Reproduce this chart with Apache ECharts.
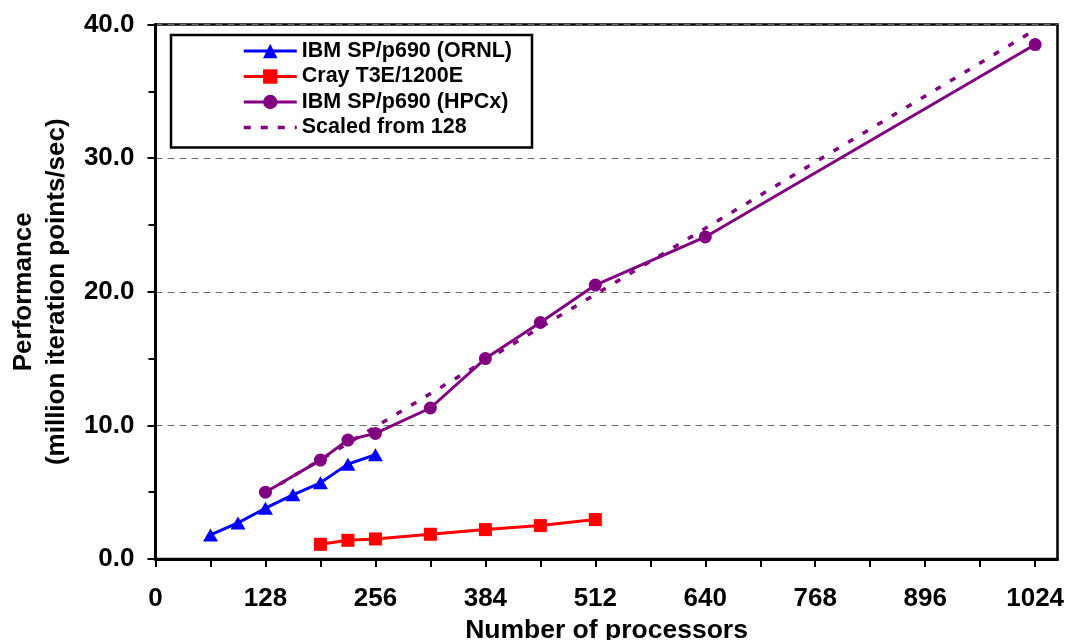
<!DOCTYPE html>
<html>
<head>
<meta charset="utf-8">
<script src="https://cdn.jsdelivr.net/npm/echarts@6/dist/echarts.min.js"></script>
<style>
  html, body { margin: 0; padding: 0; background: #fff; }
  #chart { width: 1067px; height: 640px; }
</style>
</head>
<body>
<div id="chart"></div>
<script>
// Processor counts and measured performance (million iteration points/sec)
const ornlProcs = [64, 96, 128, 160, 192, 224, 256];
const ornlPerf  = [1.8, 2.7, 3.8, 4.8, 5.7, 7.1, 7.8];

const crayProcs = [192, 224, 256, 320, 384, 448, 512];
const crayPerf  = [1.1, 1.4, 1.5, 1.85, 2.2, 2.5, 2.95];

const hpcxProcs = [128, 192, 224, 256, 320, 384, 448, 512, 640, 1024];
const hpcxPerf  = [5.0, 7.4, 8.9, 9.4, 11.3, 15.0, 17.7, 20.5, 24.1, 38.5];

// Ideal scaling line taken from the 128-processor run
const scaledProcs = [128, 1024];
const scaledPerf  = [4.95, 39.6];

// Axis tick positions and labels
const xTickValues  = [0, 64, 128, 192, 256, 320, 384, 448, 512, 576, 640, 704, 768, 832, 896, 960, 1024];
const xLabelValues = [0, 128, 256, 384, 512, 640, 768, 896, 1024];

const seriesNames = ['IBM SP/p690 (ORNL)', 'Cray T3E/1200E', 'IBM SP/p690 (HPCx)', 'Scaled from 128'];

const pairs = (xs, ys) => xs.map((x, i) => [x, ys[i]]);
const FONT = '"Liberation Sans", Arial, sans-serif';

const chart = echarts.init(document.getElementById('chart'), null, { renderer: 'canvas' });

chart.setOption({
  animation: false,
  backgroundColor: '#ffffff',
  grid: {
    left: 155.5, right: 9.5, top: 24.5, bottom: 81,
    outerBoundsMode: 'none',
    containLabel: false,
    show: true, borderColor: '#000', borderWidth: 2.5, backgroundColor: 'transparent'
  },
  legend: {
    data: [
      { name: seriesNames[0], lineStyle: { width: 3 } },
      { name: seriesNames[1], lineStyle: { width: 3 } },
      { name: seriesNames[2], lineStyle: { width: 3 } },
      { name: seriesNames[3], itemStyle: { opacity: 0 }, lineStyle: { width: 3.5, type: [7, 10] } }
    ],
    orient: 'vertical',
    left: 171, top: 35,
    padding: [5, 20, 9, 71],
    itemWidth: 53, itemHeight: 18, itemGap: 3.5,
    borderColor: '#000', borderWidth: 2.5,
    backgroundColor: '#fff',
    textStyle: { fontFamily: FONT, fontWeight: 'bold', fontSize: 21.5, color: '#000', lineHeight: 22 }
  },
  xAxis: {
    type: 'value',
    min: 0, max: 1050,
    interval: 64,
    name: 'Number of processors',
    nameLocation: 'middle',
    nameGap: 57,
    nameTextStyle: { fontFamily: FONT, fontWeight: 'bold', fontSize: 26.5, color: '#000' },
    axisLine: { show: true, onZero: false, lineStyle: { color: '#000', width: 3 } },
    axisTick: { show: true, customValues: xTickValues, length: 8, lineStyle: { color: '#000', width: 2 } },
    axisLabel: {
      customValues: xLabelValues, margin: 27,
      formatter: v => String(v),
      fontFamily: FONT, fontWeight: 'bold', fontSize: 26, color: '#000'
    },
    splitLine: { show: false }
  },
  yAxis: {
    type: 'value',
    min: 0, max: 40, interval: 10,
    name: 'Performance\n(million iteration points/sec)',
    nameLocation: 'middle',
    nameGap: 82,
    nameTextStyle: { fontFamily: FONT, fontWeight: 'bold', fontSize: 26, color: '#000', lineHeight: 33, align: 'center' },
    axisLine: { show: true, lineStyle: { color: '#000', width: 3 } },
    axisTick: { show: true, length: 8, lineStyle: { color: '#000', width: 2 } },
    minorTick: { show: true, splitNumber: 2, length: 7, lineStyle: { color: '#000', width: 2 } },
    axisLabel: {
      margin: 21,
      formatter: v => v.toFixed(1),
      fontFamily: FONT, fontWeight: 'bold', fontSize: 26, color: '#000'
    },
    splitLine: { show: true, lineStyle: { color: '#6e6e6e', width: 1, type: [7, 5] } }
  },
  series: [
    {
      name: seriesNames[3],
      type: 'line',
      data: pairs(scaledProcs, scaledPerf),
      symbol: 'none',
      z: 1,
      color: '#800080',
      lineStyle: { color: '#800080', width: 3.5, type: [6, 11] }
    },
    {
      name: seriesNames[0],
      type: 'line',
      data: pairs(ornlProcs, ornlPerf),
      symbol: 'triangle', symbolSize: [15, 13],
      color: '#0000ff',
      lineStyle: { color: '#0000ff', width: 3 },
      itemStyle: { color: '#0000ff' },
      z: 3
    },
    {
      name: seriesNames[1],
      type: 'line',
      data: pairs(crayProcs, crayPerf),
      symbol: 'rect', symbolSize: 13,
      color: '#ff0000',
      lineStyle: { color: '#ff0000', width: 3 },
      itemStyle: { color: '#ff0000' },
      z: 3
    },
    {
      name: seriesNames[2],
      type: 'line',
      data: pairs(hpcxProcs, hpcxPerf),
      symbol: 'circle', symbolSize: 13,
      color: '#800080',
      lineStyle: { color: '#800080', width: 3 },
      itemStyle: { color: '#800080' },
      z: 3
    }
  ]
});
</script>
</body>
</html>
